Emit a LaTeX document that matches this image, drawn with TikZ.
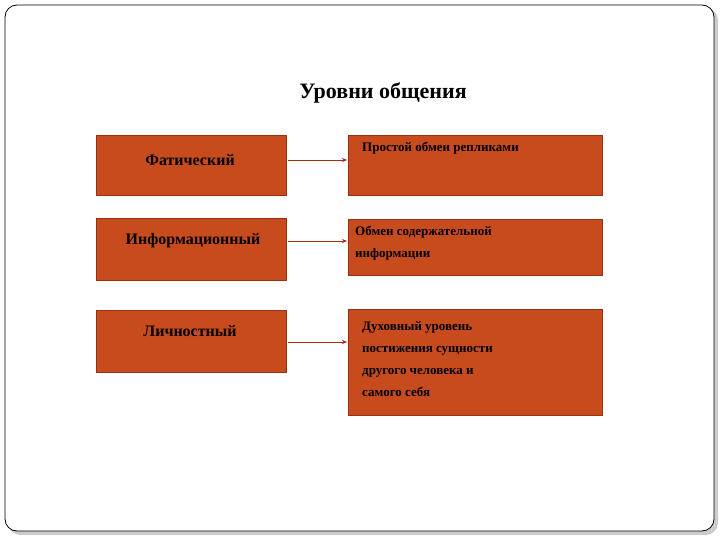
\documentclass[tikz,border=0pt]{standalone}
\usepackage{fontspec}
\setmainfont{Liberation Serif}
\usetikzlibrary{arrows.meta}
\definecolor{boxfill}{RGB}{200,75,30}
\definecolor{boxline}{RGB}{150,50,20}
\definecolor{arrowred}{RGB}{170,40,20}
\begin{document}
\begin{tikzpicture}[x=1pt,y=-1pt,
    levelbox/.style={draw=boxline, fill=boxfill, line width=0.8pt},
    lefttext/.style={font=\bfseries\fontsize{16}{19}\selectfont},
    righttext/.style={font=\bfseries\fontsize{13}{22}\selectfont, align=left, anchor=north west, inner sep=0pt},
    link/.style={-{Stealth[length=5pt,width=4pt]}, arrowred, line width=0.8pt}]
    \useasboundingbox (0,0) rectangle (720,540);
    % frame
    \fill[gray!40, rounded corners=12pt] (8,8) rectangle (718,535);
    \draw[fill=white, line width=0.8pt, rounded corners=12pt] (5,5) rectangle (714,531);
    \node[font=\bfseries\fontsize{22}{26}\selectfont] (title) at (383,93) {Уровни общения};

    % left boxes
    \draw[levelbox] (96,135) rectangle (286,195);
    \draw[levelbox] (96,218) rectangle (286,280);
    \draw[levelbox] (96,310) rectangle (286,372);
    \node[lefttext] (fat) at (190,160) {Фатический};
    \node[lefttext] (inf) at (193,241) {Информационный};
    \node[lefttext] (lich) at (190,331) {Личностный};

    % right boxes
    \draw[levelbox] (348,135) rectangle (602,195);
    \draw[levelbox] (348,219) rectangle (602,275);
    \draw[levelbox] (348,309) rectangle (602,415);
    \node[righttext] (r1) at (362,142) {Простой обмен репликами};
    \node[righttext] (r2) at (355,226) {Обмен содержательной\\информации};
    \node[righttext] (r3) at (362,321) {Духовный уровень\\постижения сущности\\другого человека и\\самого себя};

    % arrows
    \coordinate (a1) at (288,160); \coordinate (b1) at (347,160);
    \coordinate (a2) at (288,241); \coordinate (b2) at (347,241);
    \coordinate (a3) at (288,342); \coordinate (b3) at (347,342);
    \draw[link] (a1) -- (b1);
    \draw[link] (a2) -- (b2);
    \draw[link] (a3) -- (b3);
\end{tikzpicture}
\end{document}
